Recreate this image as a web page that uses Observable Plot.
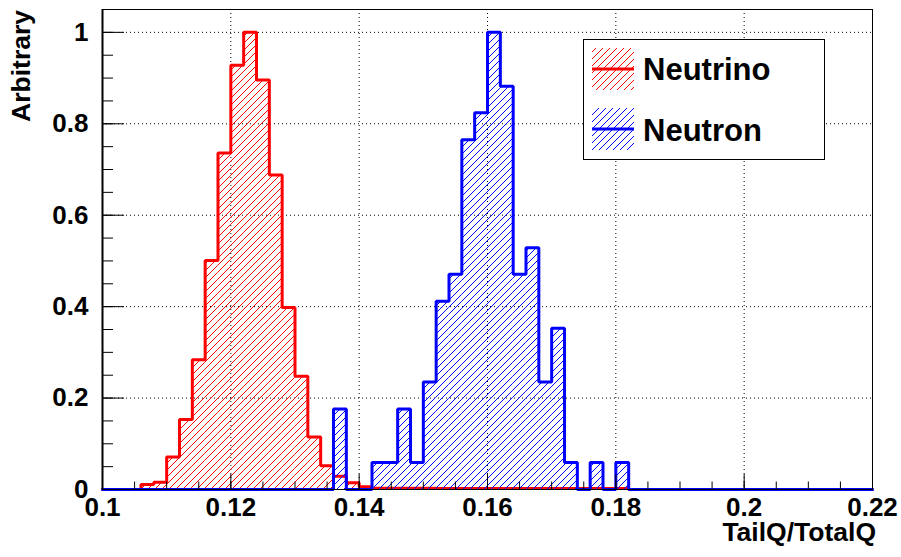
<!DOCTYPE html>
<html>
<head>
<meta charset="utf-8">
<script src="https://cdn.jsdelivr.net/npm/d3@7"></script>
<script src="https://cdn.jsdelivr.net/npm/@observablehq/plot@0.6"></script>
<style>
  html, body { margin: 0; padding: 0; background: white; }
  svg { display: block; }
</style>
</head>
<body>
<div id="chart"></div>
<script>
// ---- data ----
const binEdges = [0.100,0.102,0.104,0.106,0.108,0.110,0.112,0.114,0.116,0.118,
  0.120,0.122,0.124,0.126,0.128,0.130,0.132,0.134,0.136,0.138,
  0.140,0.142,0.144,0.146,0.148,0.150,0.152,0.154,0.156,0.158,
  0.160,0.162,0.164,0.166,0.168,0.170,0.172,0.174,0.176,0.178,
  0.180,0.182,0.184,0.186,0.188,0.190,0.192,0.194,0.196,0.198,
  0.200,0.202,0.204,0.206,0.208,0.210,0.212,0.214,0.216,0.218,0.220];

const neutrino = [0,0,0,0.011,0.016,0.071,0.153,0.284,0.501,0.736,
  0.928,1.0,0.896,0.688,0.398,0.248,0.115,0.052,0.029,0.0145,
  0.006,0.003,0.003,0.003,0.003,0.003,0.002,0.002,0.002,0.002,
  0.002,0.002,0.002,0.002,0.002,0.002,0.002,0.002,0.002,0.002,
  0.002,0,0,0,0,0,0,0,0,0,
  0,0,0,0,0,0,0,0,0,0];

const neutron = [0,0,0,0,0,0,0,0,0,0,
  0,0,0,0,0,0,0,0,0.176,0,
  0,0.059,0.059,0.176,0.059,0.235,0.412,0.471,0.765,0.824,
  1.0,0.882,0.471,0.529,0.235,0.353,0.059,0,0.059,0,
  0.059,0,0,0,0,0,0,0,0,0,
  0,0,0,0,0,0,0,0,0,0];

const seriesNames = ["Neutrino", "Neutron"];
const seriesColors = ["#ff0000", "#0000ff"];

const xTicks = [0.1, 0.12, 0.14, 0.16, 0.18, 0.2, 0.22];
const xTickLabels = ["0.1", "0.12", "0.14", "0.16", "0.18", "0.2", "0.22"];
const yTicks = [0, 0.2, 0.4, 0.6, 0.8, 1];
const yTickLabels = ["0", "0.2", "0.4", "0.6", "0.8", "1"];
const xMinor = d3.range(0.1, 0.22 + 1e-9, 0.005);
const yMinor = d3.range(0, 1.05, 0.05);
const xLabel = "TailQ/TotalQ";
const yLabel = "Arbitrary";

// ---- build tables ----
function binsOf(values) {
  return values.map((v, i) => ({x1: binEdges[i], x2: binEdges[i + 1], y: v}));
}
function outlineOf(values) {
  const pts = [{x: binEdges[0], y: 0}];
  values.forEach((v, i) => pts.push({x: binEdges[i], y: v}));
  pts.push({x: binEdges[binEdges.length - 1], y: values[values.length - 1]});
  pts.push({x: binEdges[binEdges.length - 1], y: 0});
  return pts;
}

const W = 901, H = 557;
const mL = 102, mR = 29, mT = 9, mB = 68;
const frameW = W - mL - mR, frameH = H - mT - mB;
const font = "'Liberation Sans', Arial, Helvetica, sans-serif";
const dots = "1,3";

const chart = Plot.plot({
  width: W, height: H,
  marginLeft: mL, marginRight: mR, marginTop: mT, marginBottom: mB,
  x: {domain: [0.1, 0.22]},
  y: {domain: [0, 1.05]},
  style: {fontFamily: font, fontWeight: "bold", fontSize: "26px", background: "white", color: "black", overflow: "visible"},
  marks: [
    Plot.gridX(xTicks.slice(1, -1), {stroke: "black", strokeOpacity: 1, strokeWidth: 1, strokeDasharray: dots}),
    Plot.gridY(yTicks.slice(1), {stroke: "black", strokeOpacity: 1, strokeWidth: 1, strokeDasharray: dots}),
    Plot.rectY(binsOf(neutrino), {x1: "x1", x2: "x2", y: "y", fill: "url(#hatchRed)", insetLeft: 0, insetRight: 0}),
    Plot.line(outlineOf(neutrino), {x: "x", y: "y", curve: "step-after", stroke: seriesColors[0], strokeWidth: 3, strokeLinejoin: "miter"}),
    Plot.rectY(binsOf(neutron), {x1: "x1", x2: "x2", y: "y", fill: "url(#hatchBlue)", insetLeft: 0, insetRight: 0}),
    Plot.line(outlineOf(neutron), {x: "x", y: "y", curve: "step-after", stroke: seriesColors[1], strokeWidth: 3, strokeLinejoin: "miter"}),
    Plot.frame({stroke: "black", strokeWidth: 1}),
    Plot.ruleX([0.1], {stroke: "black", strokeWidth: 2}),
    Plot.tickX(xMinor, {x: d => d, stroke: "black", strokeWidth: 1, insetTop: frameH - 7.5}),
    Plot.tickX(xTicks, {x: d => d, stroke: "black", strokeWidth: 1, insetTop: frameH - 15}),
    Plot.tickY(yMinor, {y: d => d, stroke: "black", strokeWidth: 1, insetRight: frameW - 11}),
    Plot.tickY(yTicks, {y: d => d, stroke: "black", strokeWidth: 1, insetRight: frameW - 22}),
    Plot.axisX(xTicks, {tickSize: 0, tickPadding: 8, label: null, fontSize: 26, fontWeight: "bold",
      tickFormat: d => xTickLabels[xTicks.indexOf(d)]}),
    Plot.axisY(yTicks, {tickSize: 0, tickPadding: 14, label: null, fontSize: 26, fontWeight: "bold",
      tickFormat: d => yTickLabels[yTicks.indexOf(d)]})
  ]
});

document.getElementById("chart").appendChild(chart);

// ---- hatch patterns & overlays ----
const svg = d3.select(chart);
const defs = svg.insert("defs", ":first-child");
[["hatchRed", seriesColors[0]], ["hatchBlue", seriesColors[1]]].forEach(([id, c]) => {
  const p = defs.append("pattern").attr("id", id).attr("patternUnits", "userSpaceOnUse")
    .attr("width", 7).attr("height", 7);
  p.append("path").attr("d", "M0,7L7,0M-1,1L1,-1M6,8L8,6")
    .attr("stroke", c).attr("stroke-width", 1).attr("fill", "none");
});

// axis titles
svg.append("text").text(xLabel)
  .attr("x", 876).attr("y", 541).attr("text-anchor", "end")
  .style("font-family", font).style("font-weight", "bold").style("font-size", "26.5px").attr("fill", "black");
svg.append("text").text(yLabel)
  .attr("transform", "translate(30,10) rotate(-90)").attr("text-anchor", "end")
  .style("font-family", font).style("font-weight", "bold").style("font-size", "26.5px").attr("fill", "black");

// legend
const lg = svg.append("g");
lg.append("rect").attr("x", 583.5).attr("y", 39.5).attr("width", 241).attr("height", 120)
  .attr("fill", "white").attr("stroke", "black").attr("stroke-width", 1);
const rows = [
  {name: seriesNames[0], color: seriesColors[0], pat: "hatchRed", top: 48, base: 80},
  {name: seriesNames[1], color: seriesColors[1], pat: "hatchBlue", top: 108, base: 141}
];
rows.forEach(r => {
  lg.append("rect").attr("x", 592).attr("y", r.top).attr("width", 42).attr("height", 42).attr("fill", `url(#${r.pat})`);
  lg.append("line").attr("x1", 592).attr("x2", 634).attr("y1", r.top + 21).attr("y2", r.top + 21)
    .attr("stroke", r.color).attr("stroke-width", 3);
  lg.append("text").text(r.name).attr("x", 643).attr("y", r.base).attr("text-anchor", "start")
    .style("font-family", font).style("font-weight", "bold").style("font-size", "31px").attr("fill", "black");
});
</script>
</body>
</html>
